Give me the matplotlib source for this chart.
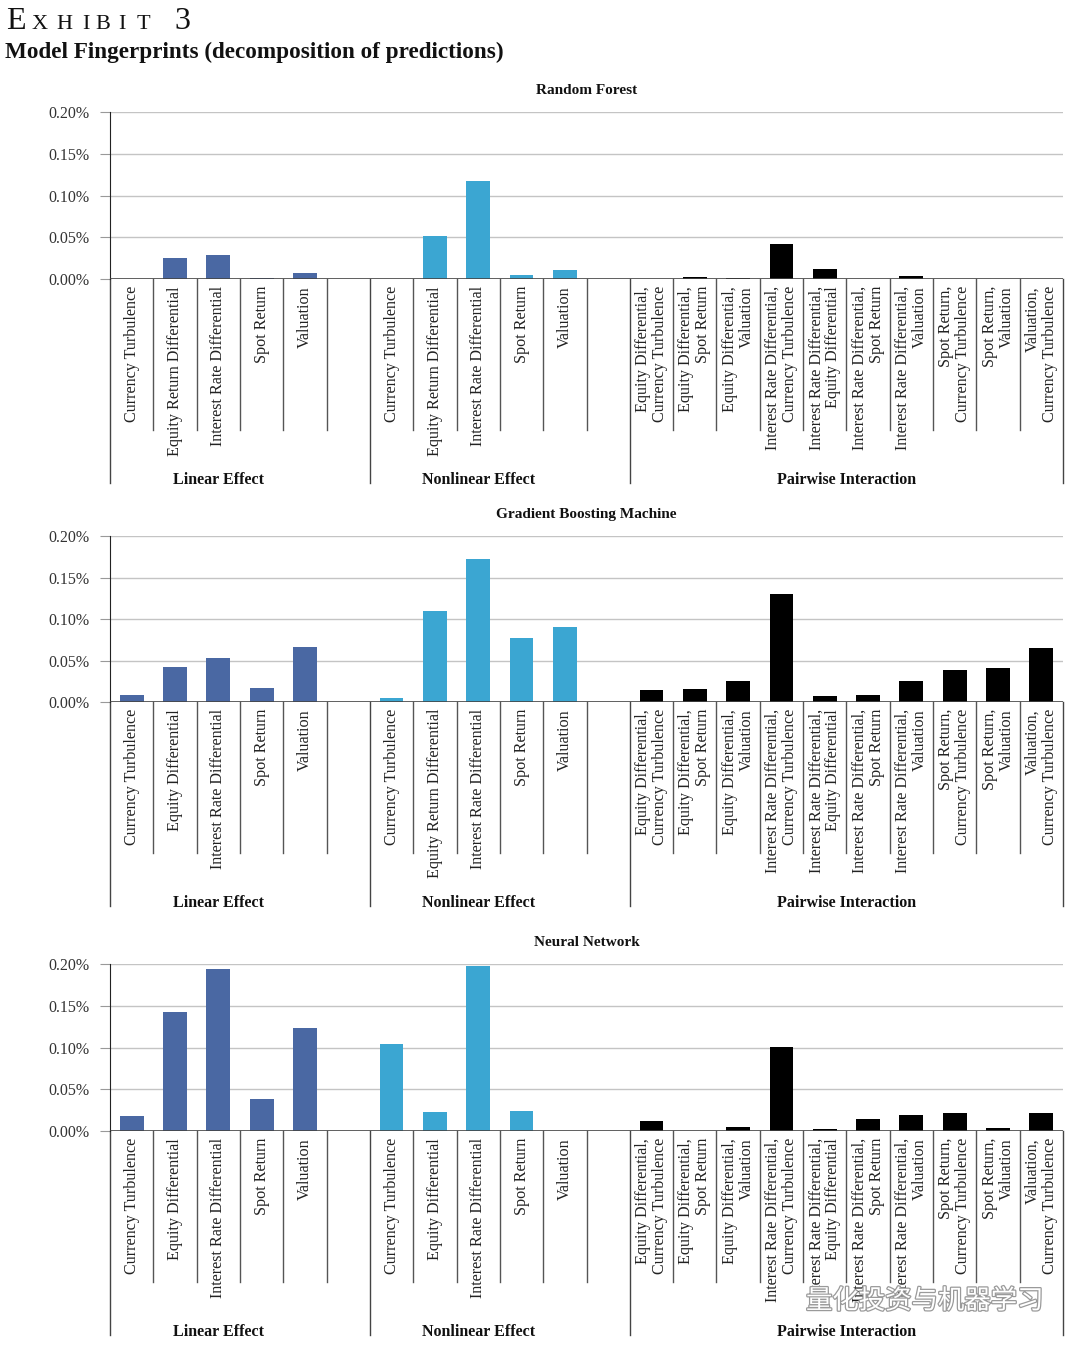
import matplotlib
matplotlib.use('Agg')
import matplotlib.pyplot as plt
import matplotlib.patheffects as pe
from matplotlib.transforms import blended_transform_factory
import numpy as np

plt.rcParams['font.family'] = ['Liberation Serif', 'DejaVu Serif']

# ---- data (values in %) ----
feat_a = ['Currency Turbulence', 'Equity Return Differential',
          'Interest Rate Differential', 'Spot Return', 'Valuation']
feat_b = ['Currency Turbulence', 'Equity Differential',
          'Interest Rate Differential', 'Spot Return', 'Valuation']
pair_labels = ['Equity Differential,\nCurrency Turbulence',
               'Equity Differential,\nSpot Return',
               'Equity Differential,\nValuation',
               'Interest Rate Differential,\nCurrency Turbulence',
               'Interest Rate Differential,\nEquity Differential',
               'Interest Rate Differential,\nSpot Return',
               'Interest Rate Differential,\nValuation',
               'Spot Return,\nCurrency Turbulence',
               'Spot Return,\nValuation',
               'Valuation,\nCurrency Turbulence']
group_names = ['Linear Effect', 'Nonlinear Effect', 'Pairwise Interaction']
models = ['Random Forest', 'Gradient Boosting Machine', 'Neural Network']

rf_linear = [0.0, 0.0256, 0.0292, 0.0016, 0.0072]
rf_nonlinear = [0.0, 0.052, 0.1168, 0.0048, 0.0104]
rf_pair = [0.0, 0.002, 0.0012, 0.0415, 0.0124, 0.0, 0.0032, 0.0, 0.0, 0.0]

gbm_linear = [0.008, 0.0426, 0.053, 0.0167, 0.0657]
gbm_nonlinear = [0.0044, 0.1096, 0.1725, 0.0769, 0.0908]
gbm_pair = [0.0143, 0.0155, 0.025, 0.1306, 0.0071, 0.008, 0.0258, 0.0385, 0.041, 0.065]

nn_linear = [0.0179, 0.143, 0.1944, 0.0378, 0.1235]
nn_nonlinear = [0.1044, 0.0231, 0.1976, 0.0243, 0.0]
nn_pair = [0.012, 0.0, 0.0052, 0.1004, 0.002, 0.0147, 0.0195, 0.0219, 0.0036, 0.0211]

yticks = [0.0, 0.05, 0.10, 0.15, 0.20]

C_LIN = '#4a68a3'
C_NON = '#3ba6d2'
C_PAIR = '#000000'

W, H = 1080, 1348
fig = plt.figure(figsize=(W / 100, H / 100), dpi=100)
fig.patch.set_facecolor('white')


def fy(px):
    return 1 - px / H


# header
fig.text(6 / W, fy(29), 'E', fontsize=23, va='baseline', ha='left', color='#111')
for ch, cx in zip('XHIBIT', [39.5, 64.5, 85.5, 102.5, 121.5, 143]):
    fig.text(cx / W, fy(29), ch, fontsize=16, va='baseline', ha='center', color='#111')
fig.text(174 / W, fy(29), '3', fontsize=23, va='baseline', ha='left', color='#111')
fig.text(5 / W, fy(58), 'Model Fingerprints (decomposition of predictions)',
         fontsize=16.7, fontweight='bold', va='baseline', ha='left', color='#111')

x_lin = np.arange(5)
x_non = np.arange(6, 11)
x_pair = np.arange(12, 22)


def draw_panel(top, bot, title, lin_lab, lin_v, non_lab, non_v, pair_v):
    ax = fig.add_axes([110 / W, fy(bot), 953 / W, (bot - top) / H])
    ax.set_xlim(-0.5, 21.5)
    ax.set_ylim(0, 0.2)
    ax.bar(x_lin, lin_v, width=0.55, color=C_LIN, zorder=3)
    ax.bar(x_non, non_v, width=0.55, color=C_NON, zorder=3)
    ax.bar(x_pair, pair_v, width=0.55, color=C_PAIR, zorder=3)

    ax.set_yticks(yticks)
    ax.set_yticklabels(['%.2f%%' % v for v in yticks], fontsize=11.5, color='#333')
    ax.tick_params(axis='y', length=7, color='#999', pad=8)
    ax.set_xticks([])
    for v in yticks[1:]:
        ax.axhline(v, color='#c4c4c4', lw=1, zorder=1)
    for s in ['top', 'right', 'bottom']:
        ax.spines[s].set_visible(False)
    ax.spines['left'].set_color('#222')
    ax.axhline(0, color='#444', lw=1.2, zorder=4)

    ax.text(0.5, fy(top - 21), title, transform=blended_transform_factory(ax.transAxes, fig.transFigure),
            ha='center', va='center', fontsize=11, fontweight='bold', color='#111')

    tr = blended_transform_factory(ax.transData, fig.transFigure)
    # separators
    for x in list(np.arange(0.5, 5, 1)) + list(np.arange(6.5, 11, 1)) + list(np.arange(12.5, 21, 1)):
        ax.plot([x, x], [fy(bot), fy(bot + 151)], transform=tr, color='#555', lw=1, clip_on=False)
    for x in [-0.5, 5.5, 11.5, 21.5]:
        ax.plot([x, x], [fy(bot), fy(bot + 204)], transform=tr, color='#444', lw=1, clip_on=False)

    # category labels
    for xs, labs in [(x_lin, lin_lab), (x_non, non_lab), (x_pair, pair_labels)]:
        for x, lab in zip(xs, labs):
            ax.text(x, fy(bot + 7), lab, transform=tr, rotation=90, ha='center', va='top',
                    multialignment='right', fontsize=11.6, color='#222', linespacing=1.08)

    # group labels
    for cx, name in zip([2, 8, 16.5], group_names):
        ax.text(cx, fy(bot + 201), name, transform=tr, ha='center', va='center',
                fontsize=11.5, fontweight='bold', color='#111')
    return ax


draw_panel(112, 279, models[0], feat_a, rf_linear, feat_a, rf_nonlinear, rf_pair)
draw_panel(536, 702, models[1], feat_b, gbm_linear, feat_a, gbm_nonlinear, gbm_pair)
draw_panel(964, 1131, models[2], feat_b, nn_linear, feat_b, nn_nonlinear, nn_pair)

# watermark
fig.text(806 / W, fy(1301), '量化投资与机器学习', family=['Noto Sans CJK SC'], fontsize=19,
         color='white', va='center', ha='left',
         path_effects=[pe.withStroke(linewidth=1.8, foreground='#9a9a9a')])

fig.savefig('out.png', dpi=100)
